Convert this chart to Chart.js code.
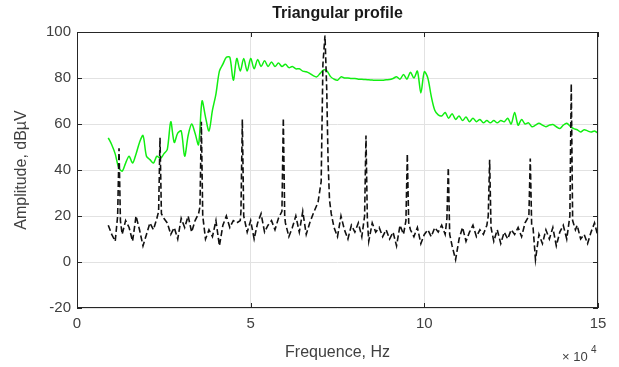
<!DOCTYPE html>
<html><head><meta charset="utf-8">
<script src="https://cdn.jsdelivr.net/npm/chart.js@4"></script>
<style>html,body{margin:0;padding:0;background:#fff}#wrap{width:619px;height:367px;position:relative}</style>
</head><body><div id="wrap"><canvas id="c" width="619" height="367"></canvas></div>
<script>
// Frequencies in units of 1e4 Hz
const greenFreqs = [
  0.9,1.0,1.1,1.2,1.3,1.4,1.5,1.6,1.7,1.8,
  1.9,2.0,2.1,2.2,2.3,2.4,2.5,2.6,2.7,2.8,
  2.9,3.0,3.1,3.2,3.3,3.4,3.5,3.6,3.7,3.8,
  3.9,4.0,4.1,4.2,4.3,4.4,4.5,4.6,4.7,4.8,
  4.9,5.0,5.1,5.2,5.3,5.4,5.5,5.6,5.7,5.8,
  5.9,6.0,6.1,6.2,6.3,6.4,6.5,6.6,6.7,6.8,
  6.9,7.0,7.1,7.2,7.3,7.4,7.5,7.6,7.7,7.8,
  7.9,8.0,8.1,8.2,8.3,8.4,8.5,8.6,8.7,8.8,
  8.9,9.0,9.1,9.2,9.3,9.4,9.5,9.6,9.7,9.8,
  9.9,10.0,10.1,10.2,10.3,10.4,10.5,10.6,10.7,10.8,
  10.9,11.0,11.1,11.2,11.3,11.4,11.5,11.6,11.7,11.8,
  11.9,12.0,12.1,12.2,12.3,12.4,12.5,12.6,12.7,12.8,
  12.9,13.0,13.1,13.2,13.3,13.4,13.5,13.6,13.7,13.8,
  13.9,14.0,14.1,14.2,14.3,14.4,14.5,14.6,14.7,14.8,
  14.9,15.0
];
// green: triangular profile envelope (dBuV)
const greenAmp = [
  54,51,47,41,39.5,43,46,43,47,52,
  55,46,44.5,43,46,45,47,49,61,52,
  56,57,46,55,60,56,51,70,63,57,
  66,73,83,86,89,89,79,88.5,83,88.5,
  83,88.5,84,88,85,87.5,85,87,85,86.5,
  85,86,84.5,85,84,84,83,82.7,82,81,
  80.5,82,83.5,83,80.6,79.5,79,80.5,80,80,
  79.8,79.8,79.5,79.5,79.3,79.2,79.1,79,79,79,
  79.2,79.3,79.8,80.5,79.5,81.5,79.5,82.5,80,83,
  73.5,82.7,80,72,66,64,63.5,65,62.5,64.5,
  62,63.5,61.5,63,61,62.5,61,62,60.5,61.5,
  60.5,61.5,60.5,61.5,61,62.5,60,65,59.5,62,
  60,60.5,58.8,59.5,60.3,59.5,58.8,59.5,59.8,58.8,
  58,59.5,60.3,59,58,57.5,56.5,57.5,57,56.5,
  57,56
];
// black dashed: measured spectrum
const blackFreqs = [
  0.9,1.0,1.1,1.17,1.21,1.25,1.3,1.4,1.5,1.6,1.7,1.8,
  1.9,2.0,2.1,2.2,2.3,2.35,2.39,2.43,2.5,2.6,2.7,2.8,
  2.9,3.0,3.1,3.2,3.3,3.4,3.5,3.54,3.58,3.62,3.7,3.8,
  3.9,4.0,4.1,4.2,4.3,4.4,4.5,4.6,4.7,4.72,4.76,4.8,
  4.9,5.0,5.1,5.2,5.3,5.4,5.5,5.6,5.7,5.8,5.9,5.94,5.98,
  6.0,6.1,6.2,6.3,6.4,6.5,6.6,6.7,6.8,6.94,7.03,7.08,7.14,7.19,7.23,7.27,7.32,
  7.4,7.5,7.6,7.7,7.8,7.9,8.0,8.1,8.2,8.28,8.32,8.36,
  8.4,8.5,8.6,8.7,8.8,8.9,9.0,9.1,9.2,9.3,9.4,9.47,9.51,9.55,
  9.6,9.7,9.8,9.9,10.0,10.1,10.2,10.3,10.4,10.5,10.6,10.65,10.69,10.73,
  10.8,10.9,11.0,11.1,11.2,11.3,11.4,11.5,11.6,11.7,11.8,11.84,11.88,11.92,
  12.0,12.1,12.2,12.3,12.4,12.5,12.6,12.7,12.8,12.9,13.01,13.05,13.09,13.13,
  13.2,13.3,13.4,13.5,13.6,13.7,13.8,13.9,14.0,14.1,14.19,14.23,14.27,
  14.35,14.4,14.5,14.6,14.7,14.8,14.9,15.0
];
const blackAmp = [
  16,12,9,20,49.5,18,12,18,15,9,20,14,
  7,12,17,14,19,22,54,21,19,17,12,15,
  10,19,15,20,13,18,21,24,61,20,10,14,
  11,18,7,16,20,15,18,17,18,22,62,20,
  13,18,10,17,21,13,16,18,14,19,22,62.5,20,
  17,11,15,20,13,22,12,17,21,26,35,86,98.5,75,43,27,21,
  15,11,20,14,10,16,13,17,11,20,55,18,
  9,17,13,15,11,14,10,13,7,16,12,18,47,17,
  14,11,15,8,12,14,11,15,13,16,12,19,41,12,
  7,1,10,15,9,13,16,11,14,12,16,20,44.5,15,
  9,14,8,13,10,14,12,15,11,17,20,45,16,15,
  1,12,8,14,10,15,7,13,16,10,20,77.5,18,
  14,16,10,12,8,13,17,11
];
const xTicks = [0, 5, 10, 15];
const yTicks = [-20, 0, 20, 40, 60, 80, 100];
const titleText = 'Triangular profile';
const xLabel = 'Frequence, Hz';
const yLabel = 'Amplitude, dB\u00B5V';
const xExponent = '4';

const FONT = '"Liberation Sans", Arial, sans-serif';

const framePlugin = {
  id: 'frame',
  afterDatasetsDraw(chart) {
    const {ctx, chartArea: a, scales} = chart;
    ctx.save();
    ctx.strokeStyle = '#262626';
    ctx.lineWidth = 1;
    ctx.strokeRect(Math.round(a.left) + 0.5, Math.round(a.top) + 0.5,
                   Math.round(a.right - a.left) - 1, Math.round(a.bottom - a.top) - 1);
    ctx.beginPath();
    const tl = 5;
    xTicks.forEach(v => {
      const x = Math.round(scales.x.getPixelForValue(v)) + 0.5;
      ctx.moveTo(x, a.bottom); ctx.lineTo(x, a.bottom - tl);
      ctx.moveTo(x, a.top); ctx.lineTo(x, a.top + tl);
    });
    yTicks.forEach(v => {
      const y = Math.round(scales.y.getPixelForValue(v)) + 0.5;
      ctx.moveTo(a.left, y); ctx.lineTo(a.left + tl, y);
      ctx.moveTo(a.right, y); ctx.lineTo(a.right - tl, y);
    });
    ctx.stroke();
    ctx.restore();
  },
  afterDraw(chart) {
    const {ctx, chartArea: a} = chart;
    const cx = (a.left + a.right) / 2;
    ctx.save();
    ctx.textAlign = 'center';
    ctx.textBaseline = 'middle';
    ctx.fillStyle = '#1a1a1a';
    ctx.font = 'bold 16px ' + FONT;
    ctx.fillText(titleText, cx, 14);
    ctx.fillStyle = '#404040';
    ctx.font = '16px ' + FONT;
    ctx.fillText(xLabel, cx, 353);
    ctx.save();
    ctx.translate(22, (a.top + a.bottom) / 2);
    ctx.rotate(-Math.PI / 2);
    ctx.fillText(yLabel, 0, 0);
    ctx.restore();
    ctx.textAlign = 'left';
    ctx.font = '13px ' + FONT;
    ctx.fillText('\u00D7 10', 562, 357);
    ctx.font = '10px ' + FONT;
    ctx.fillText(xExponent, 591, 350);
    ctx.restore();
  }
};

new Chart(document.getElementById('c'), {
  type: 'line',
  data: {
    datasets: [
      {
        label: 'Spectrum',
        data: blackFreqs.map((f, i) => ({x: f, y: blackAmp[i]})),
        borderColor: '#111111',
        borderWidth: 1.6,
        borderDash: [6, 3],
        pointRadius: 0,
        tension: 0,
        fill: false
      },
      {
        label: 'Profile',
        data: greenFreqs.map((f, i) => ({x: f, y: greenAmp[i]})),
        borderColor: '#11ee11',
        borderWidth: 1.5,
        pointRadius: 0,
        tension: 0.3,
        fill: false
      }
    ]
  },
  options: {
    responsive: false,
    animation: false,
    devicePixelRatio: 1,
    layout: {padding: {left: 0, top: 32, right: 21, bottom: 0}},
    plugins: {legend: {display: false}, tooltip: {enabled: false}, title: {display: false}},
    scales: {
      x: {
        type: 'linear', min: 0, max: 15,
        afterBuildTicks: s => { s.ticks = xTicks.map(v => ({value: v})); },
        afterFit: s => { s.height = 59; },
        grid: {color: '#e2e2e2', drawTicks: false},
        border: {display: false},
        ticks: {color: '#404040', font: {family: FONT, size: 15}, padding: 7, maxRotation: 0}
      },
      y: {
        type: 'linear', min: -20, max: 100,
        afterBuildTicks: s => { s.ticks = yTicks.map(v => ({value: v})); },
        afterFit: s => { s.width = 77; },
        grid: {color: '#e2e2e2', drawTicks: false},
        border: {display: false},
        ticks: {color: '#404040', font: {family: FONT, size: 15}, padding: 6}
      }
    }
  },
  plugins: [framePlugin]
});
</script>
</body></html>
